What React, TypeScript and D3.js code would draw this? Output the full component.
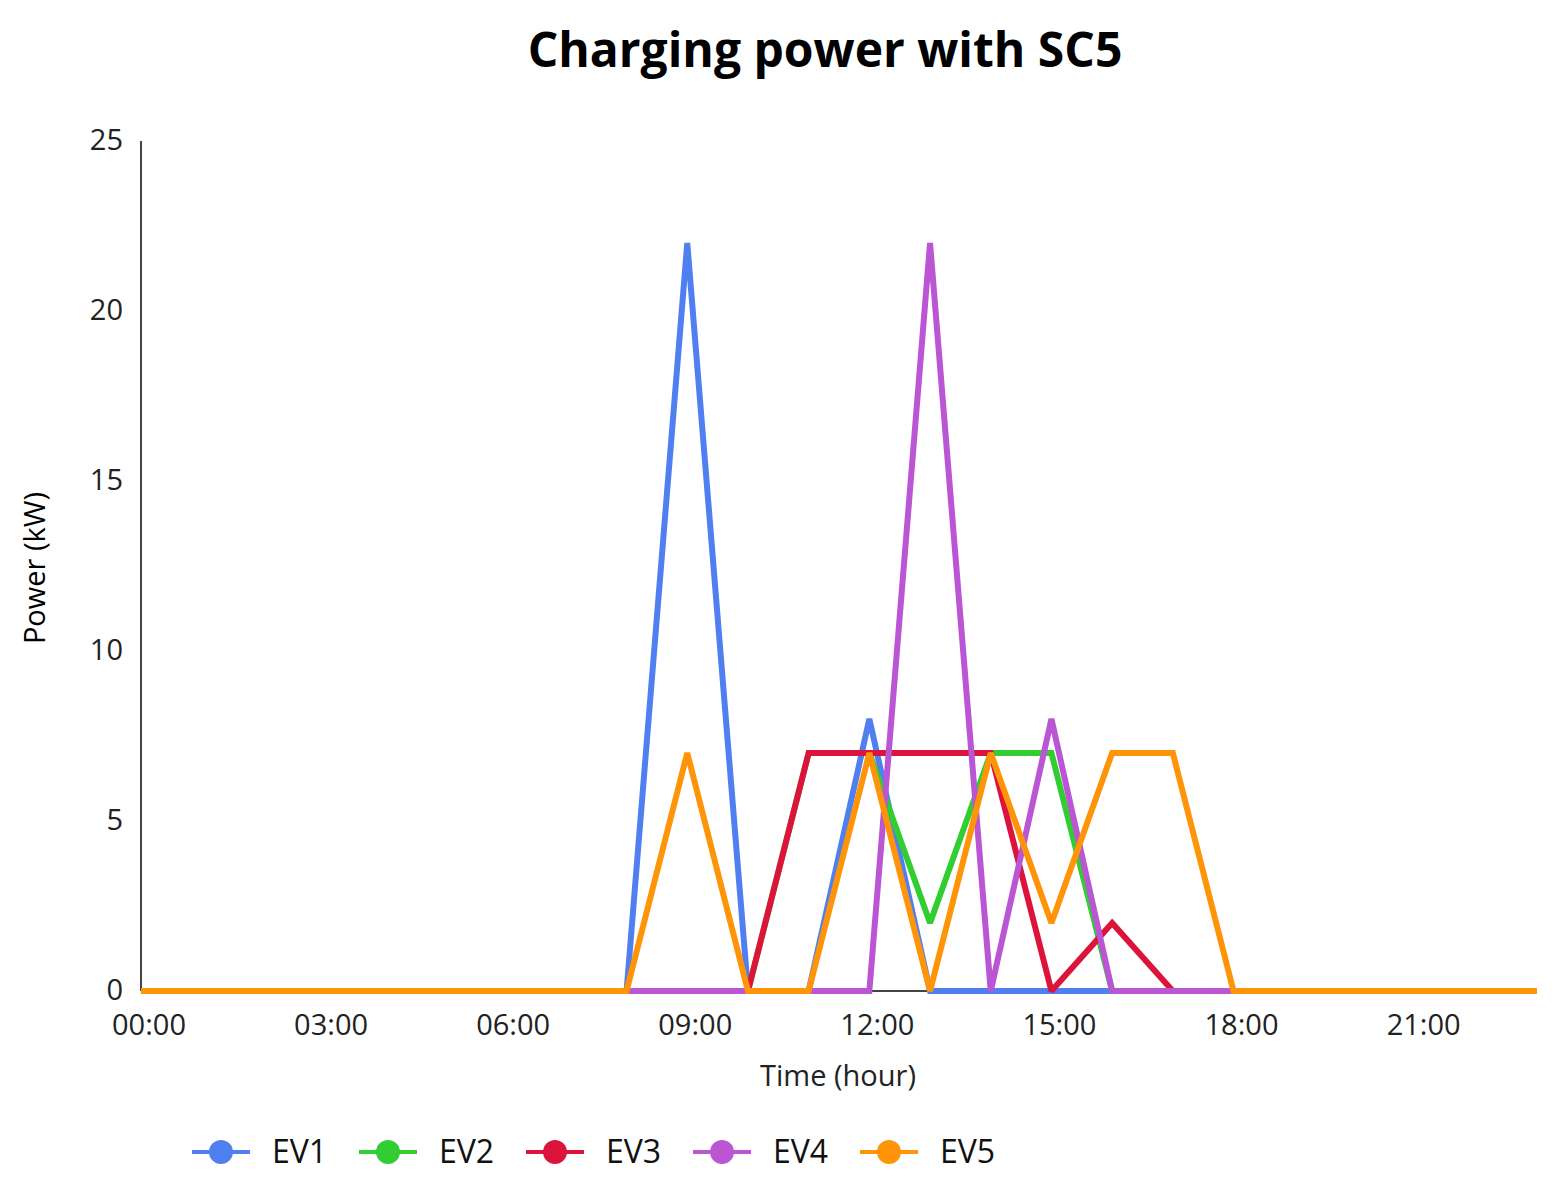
import React from "react";
import * as d3 from "d3";

const hours: number[] = d3.range(0, 24);
const xTickHours: number[] = [0, 3, 6, 9, 12, 15, 18, 21];
const yTicks: number[] = [0, 5, 10, 15, 20, 25];

const seriesNames: string[] = ["EV1", "EV2", "EV3", "EV4", "EV5"];
const seriesColors: string[] = ["#5080f0", "#32cd32", "#dc143c", "#ba55d3", "#ff9408"];

const ev1: number[] = [0, 0, 0, 0, 0, 0, 0, 0, 0, 22, 0, 0, 8, 0, 0, 0, 0, 0, 0, 0, 0, 0, 0, 0];
const ev2: number[] = [0, 0, 0, 0, 0, 0, 0, 0, 0, 0, 0, 7, 7, 2, 7, 7, 0, 0, 0, 0, 0, 0, 0, 0];
const ev3: number[] = [0, 0, 0, 0, 0, 0, 0, 0, 0, 0, 0, 7, 7, 7, 7, 0, 2, 0, 0, 0, 0, 0, 0, 0];
const ev4: number[] = [0, 0, 0, 0, 0, 0, 0, 0, 0, 0, 0, 0, 0, 22, 0, 8, 0, 0, 0, 0, 0, 0, 0, 0];
const ev5: number[] = [0, 0, 0, 0, 0, 0, 0, 0, 0, 7, 0, 0, 7, 0, 7, 2, 7, 7, 0, 0, 0, 0, 0, 0];

const seriesValues: number[][] = [ev1, ev2, ev3, ev4, ev5];

const fmtHour = (h: number) => `${String(h).padStart(2, "0")}:00`;

export default function App() {
  const W = 1558;
  const H = 1187;
  const left = 141;
  const right = 1537;
  const top = 141;
  const bottom = 991;
  const font = "'Open Sans', 'Noto Sans', sans-serif";

  const x = d3.scaleLinear().domain([0, 23]).range([left, right]);
  const y = d3.scaleLinear().domain([0, 25]).range([bottom, top]);
  const line = d3
    .line<number>()
    .x((_, i) => x(hours[i]))
    .y((d) => y(d));

  const legendX0 = 192;
  const legendStep = 167;
  const legendY = 1152;

  return (
    <svg
      width={W}
      height={H}
      style={{ position: "absolute", left: 0, top: 0, background: "#fff" }}
      fontFamily={font}
    >
      <text x={825} y={67} textAnchor="middle" fontSize={48} fontWeight={700} fill="#000">
        Charging power with SC5
      </text>

      {/* axes */}
      <line x1={left} x2={left} y1={top} y2={bottom} stroke="#444" strokeWidth={2} />
      <line x1={left} x2={right} y1={bottom} y2={bottom} stroke="#444" strokeWidth={2} />

      {yTicks.map((t) => (
        <text key={t} x={123} y={y(t) - 1} dy="0.35em" textAnchor="end" fontSize={29} fill="#222">
          {t}
        </text>
      ))}
      {xTickHours.map((h) => (
        <text key={h} x={x(h) + 8} y={1035} textAnchor="middle" fontSize={29} fill="#222">
          {fmtHour(h)}
        </text>
      ))}

      <text x={838} y={1086} textAnchor="middle" fontSize={29} fill="#222">
        Time (hour)
      </text>
      <text
        transform={`translate(45, 568) rotate(-90)`}
        textAnchor="middle"
        fontSize={29}
        fill="#000"
      >
        Power (kW)
      </text>

      {seriesValues.map((vals, i) => (
        <path
          key={seriesNames[i]}
          d={line(vals) || ""}
          fill="none"
          stroke={seriesColors[i]}
          strokeWidth={6}
          strokeLinejoin="miter"
          strokeMiterlimit={2}
        />
      ))}

      {seriesNames.map((name, i) => {
        const lx = legendX0 + i * legendStep;
        return (
          <g key={name}>
            <line x1={lx} x2={lx + 58} y1={legendY} y2={legendY} stroke={seriesColors[i]} strokeWidth={4} />
            <circle cx={lx + 29} cy={legendY} r={12} fill={seriesColors[i]} />
            <text x={lx + 80} y={legendY} dy="0.35em" fontSize={32} fill="#111">
              {name}
            </text>
          </g>
        );
      })}
    </svg>
  );
}
